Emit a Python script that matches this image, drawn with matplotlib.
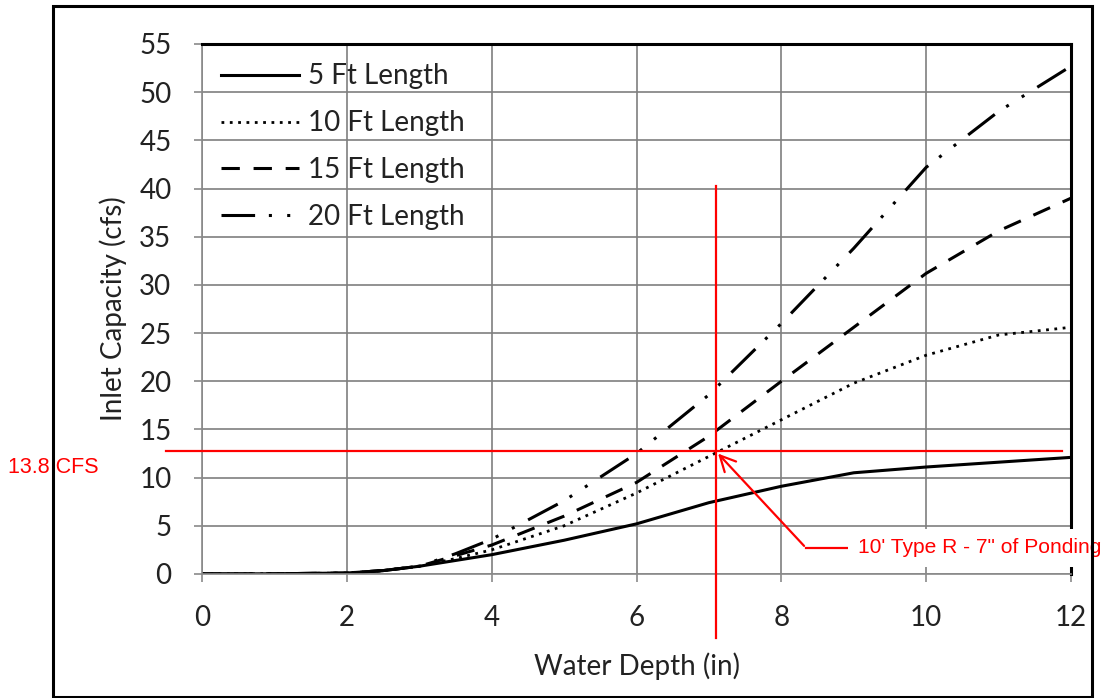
import matplotlib
matplotlib.use("Agg")
import matplotlib.pyplot as plt
from matplotlib.patches import Rectangle

# water depth (in)
depth = [0, 1, 2, 2.5, 3, 3.5, 4, 5, 6, 7, 8, 9, 10, 11, 12]

# inlet capacity (cfs)
len5 = [0, 0.02, 0.1, 0.35, 0.8, 1.4, 2.0, 3.5, 5.2, 7.4, 9.1, 10.5, 11.1, 11.6, 12.1]
len10 = [0, 0.02, 0.1, 0.35, 0.8, 1.6, 2.5, 5.0, 8.4, 12.2, 16.0, 19.8, 22.7, 24.8, 25.6]
len15 = [0, 0.02, 0.1, 0.35, 0.8, 1.9, 3.0, 6.0, 9.5, 14.3, 20.0, 25.6, 31.2, 35.6, 39.0]
len20 = [0, 0.02, 0.1, 0.35, 0.8, 2.1, 3.6, 7.6, 12.5, 18.6, 26.0, 33.8, 42.2, 48.0, 52.7]

labels = ["5 Ft Length", "10 Ft Length", "15 Ft Length", "20 Ft Length"]

xticks = [0, 2, 4, 6, 8, 10, 12]
yticks = list(range(0, 60, 5))

# design point annotation
design_depth = 7.1
design_flow = 12.8
flow_label = "13.8 CFS"
note_label = "10' Type R - 7\" of Ponding"

plt.rcParams['font.family'] = ['Lato', 'DejaVu Sans']

fig = plt.figure(figsize=(11.1, 6.98), dpi=100)
ax = fig.add_axes([0.182, 0.1777, 0.7829, 0.7593])

ax.plot(depth, len5, color="black", lw=2.2, label=labels[0])
ax.plot(depth, len10, color="black", lw=2.0, linestyle=(0, (1, 2)), label=labels[1])
ax.plot(depth, len15, color="black", lw=2.2, linestyle=(0, (6, 4.5)), label=labels[2])
ax.plot(depth, len20, color="black", lw=2.2,
        linestyle=(0, (11, 4.5, 1, 5, 1, 5)), label=labels[3])

ax.set_xlim(0, 12)
ax.set_ylim(0, 55)
ax.set_xticks(xticks)
ax.set_yticks(yticks)
ax.grid(True, color="#7f7f7f", lw=1.2)
ax.set_axisbelow(True)

for s in ["top", "right"]:
    ax.spines[s].set_color("black")
    ax.spines[s].set_linewidth(2.2)
for s in ["left", "bottom"]:
    ax.spines[s].set_color("#8a8a8a")
    ax.spines[s].set_linewidth(1.2)
ax.tick_params(axis="both", direction="out", length=6, width=1.2, color="#8a8a8a",
               labelsize=20, labelcolor="#222222", pad=16)

ax.set_xlabel("Water Depth (in)", fontsize=20, color="#222222", labelpad=16)
ax.set_ylabel("Inlet Capacity (cfs)", fontsize=20, color="#222222", labelpad=9)

leg = ax.legend(loc="upper left", frameon=False, fontsize=20, handlelength=2.8,
                labelspacing=0.75, handletextpad=0.3, borderaxespad=0.3,
                bbox_to_anchor=(0.0, 1.0))
for t in leg.get_texts():
    t.set_color("#222222")

# red design lines
red = "#ff0000"
ax.plot([-0.5, 11.88], [design_flow, design_flow], color=red, lw=1.6, clip_on=False, zorder=5)
ax.plot([design_depth, design_depth], [40.3, -6.6], color=red, lw=1.6, clip_on=False, zorder=5)

ax.annotate("", xy=(design_depth, design_flow - 0.1), xytext=(8.34, 2.7),
            arrowprops=dict(arrowstyle="->", color=red, lw=1.6, mutation_scale=28),
            annotation_clip=False, zorder=6)
ax.plot([8.34, 8.92], [2.7, 2.7], color=red, lw=1.6, clip_on=False, zorder=6)

ax.text(9.06, 2.7, note_label, color=red, fontsize=15.1, family=["Liberation Sans"],
        va="center", ha="left", zorder=7,
        bbox=dict(facecolor="white", edgecolor="none", pad=7))
ax.text(-2.68, 11.1, flow_label, color=red, fontsize=15.5, family=["Liberation Sans"],
        va="center", ha="left", zorder=7,
        bbox=dict(facecolor="white", edgecolor="none", pad=10))

# outer frame
fig.patches.append(Rectangle((53 / 1110, 0.002), (1092 - 53) / 1110, (697 - 6) / 698,
                             transform=fig.transFigure, fill=False,
                             edgecolor="black", lw=2.2, zorder=0))

fig.savefig("out.png", dpi=100)
